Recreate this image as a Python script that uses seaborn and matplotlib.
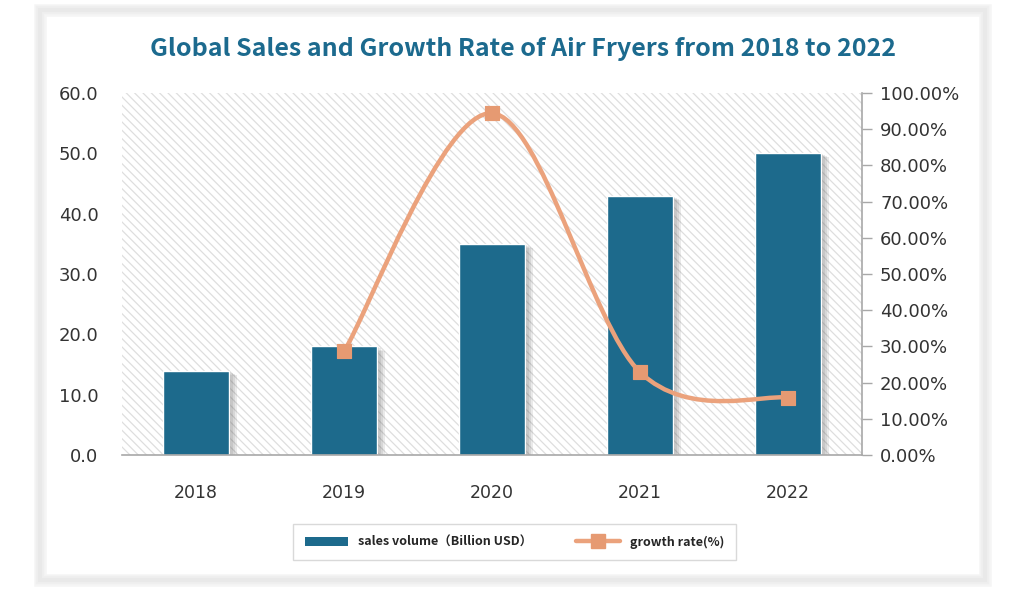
import matplotlib
matplotlib.use('Agg')
import matplotlib.pyplot as plt
import matplotlib.patheffects as pe
from matplotlib.patches import Rectangle, PathPatch
from matplotlib.path import Path
from matplotlib.lines import Line2D
from matplotlib.ticker import FuncFormatter
import seaborn as sns

# Data
years = ['2018', '2019', '2020', '2021', '2022']
sales = [14.0, 18.0, 35.0, 43.0, 50.0]          # Billion USD
growth_years = ['2019', '2020', '2021', '2022']
growth = [28.6, 94.4, 22.9, 15.8]               # percent

bar_color = '#1d6a8c'
line_color = '#eba27c'
marker_color = '#e69a72'
title_color = '#1c6a8e'

sns.set_theme(style='white')
plt.rcParams['font.family'] = ['DejaVu Sans', 'Noto Sans CJK SC']
plt.rcParams['hatch.linewidth'] = 0.9

fig = plt.figure(figsize=(10.31, 5.93), dpi=100)
fig.patch.set_facecolor('white')

# soft gray card frame
for lw, col in [(9, '#f5f5f5'), (6, '#efefef'), (3, '#e9e9e9')]:
    fig.patches.append(Rectangle((40 / 1031, 1 - 580 / 593), 945 / 1031, 570 / 593,
                                 transform=fig.transFigure, fill=False,
                                 edgecolor=col, linewidth=lw, zorder=0))

ax = fig.add_axes([122 / 1031, 1 - 455 / 593, 740 / 1031, 362 / 593])
ax.patch.set_alpha(0)

# hatched plot background
ax.add_patch(Rectangle((0, 0), 1, 1, transform=ax.transAxes, facecolor='white',
                       edgecolor='#dedede', hatch='\\\\\\\\', linewidth=0, zorder=0))

sns.barplot(x=years, y=sales, color=bar_color, width=0.44, saturation=1,
            edgecolor='white', linewidth=1, ax=ax, zorder=2)
shadow = [pe.SimplePatchShadow(offset=(o, -o / 2), shadow_rgbFace='#555555', alpha=0.12)
          for o in (6, 4.5, 3, 1.5)]
for bar in ax.patches[1:]:
    bar.set_path_effects(shadow + [pe.Normal()])

ax.set_xlim(-0.5, 4.5)
ax.set_ylim(0, 60)
ax.set_yticks(range(0, 61, 10))
ax.yaxis.set_major_formatter(FuncFormatter(lambda v, p: f'{v:.1f}'))
ax.tick_params(axis='y', length=0, pad=17, labelsize=13, labelcolor='#333333')
ax.tick_params(axis='x', length=0, pad=21, labelsize=12.5, labelcolor='#333333')
ax.set_xlabel('')
ax.set_ylabel('')
for s in ['top', 'left', 'right']:
    ax.spines[s].set_visible(False)
ax.spines['bottom'].set_color('#a8a8a8')
ax.spines['bottom'].set_linewidth(1.2)

# growth rate on twin axis
ax2 = ax.twinx()
ax2.set_ylim(0, 100)
ax2.set_yticks(range(0, 101, 10))
ax2.yaxis.set_major_formatter(FuncFormatter(lambda v, p: f'{v:.2f}%'))
ax2.tick_params(axis='y', direction='out', length=7, width=1, color='#a8a8a8',
                pad=6, labelsize=13, labelcolor='#333333')
for s in ['top', 'left', 'bottom']:
    ax2.spines[s].set_visible(False)
ax2.spines['right'].set_color('#a8a8a8')
ax2.spines['right'].set_linewidth(1.2)

gx = [years.index(y) for y in growth_years]
pts = list(zip(gx, growth))
# smoothed line (Catmull-Rom style cubic Bezier through the points)
verts = [pts[0]]
codes = [Path.MOVETO]
for i in range(len(pts) - 1):
    p0 = pts[i - 1] if i > 0 else pts[i]
    p1 = pts[i]
    p2 = pts[i + 1]
    p3 = pts[i + 2] if i + 2 < len(pts) else pts[i + 1]
    c1 = (p1[0] + (p2[0] - p0[0]) / 6, p1[1] + (p2[1] - p0[1]) / 6)
    c2 = (p2[0] - (p3[0] - p1[0]) / 6, p2[1] - (p3[1] - p1[1]) / 6)
    verts += [c1, c2, p2]
    codes += [Path.CURVE4] * 3
ax2.add_patch(PathPatch(Path(verts, codes), facecolor='none', edgecolor=line_color,
                        linewidth=3.2, zorder=3, capstyle='round'))
sns.scatterplot(x=gx, y=growth, marker='s', s=110, color=marker_color,
                edgecolor=marker_color, ax=ax2, zorder=4, legend=False)
ax2.set_xlim(-0.5, 4.5)

fig.text(0.507, 0.917, 'Global Sales and Growth Rate of Air Fryers from 2018 to 2022',
         ha='center', va='center', fontsize=18, fontweight='bold', color=title_color,
         family=['Noto Sans CJK SC', 'DejaVu Sans'])

handles = [Rectangle((0, 0), 1, 1, facecolor=bar_color, edgecolor='none'),
           Line2D([], [], color=line_color, linewidth=3.2, marker='s', markersize=10,
                  markerfacecolor=marker_color, markeredgecolor=marker_color)]
leg = fig.legend(handles, ['sales volume（Billion USD）', 'growth rate(%)'],
                 loc='center', bbox_to_anchor=(287 / 1031, 1 - 562 / 593, 455 / 1031, 40 / 593),
                 mode='expand', ncol=2, frameon=True, fancybox=False, handlelength=3.5,
                 handleheight=0.7, borderpad=0.9, columnspacing=4,
                 prop={'family': ['Noto Sans CJK SC', 'DejaVu Sans'], 'weight': 'bold', 'size': 9})
leg.get_frame().set_edgecolor('#d0d0d0')
leg.get_frame().set_linewidth(1)

fig.savefig('out.png', dpi=100, facecolor='white')
